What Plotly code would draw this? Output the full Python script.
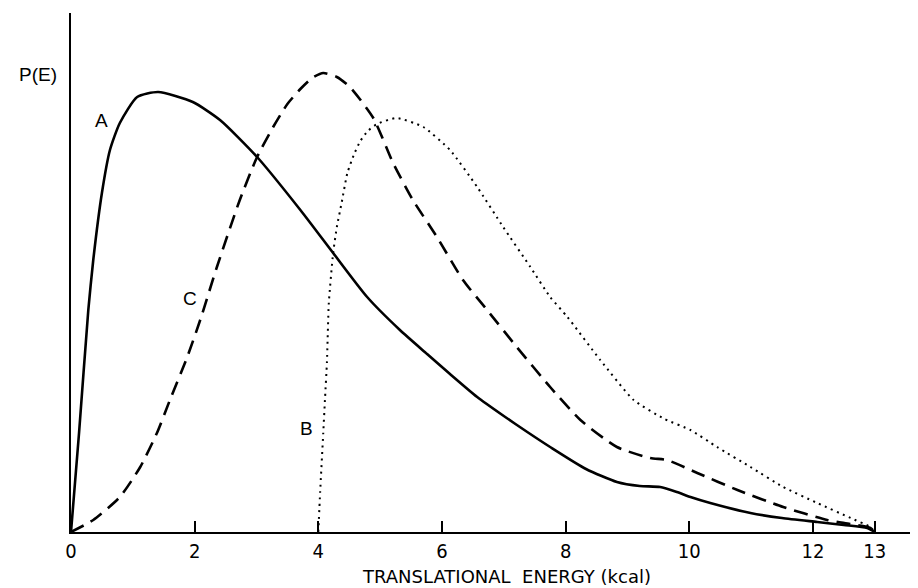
import plotly.graph_objects as go

# Translational energy (kcal) and P(E) (arbitrary units)
energy_A = [0, 0.13, 0.28, 0.36, 0.5, 0.63, 0.79, 1.07, 1.41, 1.97, 2.41, 3.01, 3.71, 4.24, 4.79,
            5.32, 5.76, 6.13, 6.57, 7.0, 7.38, 7.75, 8.33, 8.83, 9.2, 9.53, 9.8, 10.02, 10.34,
            10.99, 11.5, 12.07, 12.5, 12.88, 13.0]
pe_A = [0, 99, 222, 272, 339, 382, 409, 435, 440, 430, 412, 375, 322, 279, 235,
        202, 178, 158, 135, 116, 100, 85, 63, 50, 46, 45, 40, 35, 29,
        19, 14, 10, 7, 4, 0]

energy_C = [0, 0.36, 0.79, 1.12, 1.39, 1.6, 1.88, 2.09, 2.36, 2.73, 3.01, 3.27, 3.5, 3.71, 3.9,
            4.08, 4.3, 4.51, 4.89, 5.21, 5.53, 5.92, 6.34, 6.73, 7.21, 7.75, 8.24, 8.83, 9.37,
            9.64, 10.13, 10.78, 11.52, 12.23, 12.6, 12.93, 13.0]
pe_C = [0, 12, 35, 65, 99, 132, 175, 212, 265, 332, 375, 405, 428, 443, 454,
        459, 455, 445, 414, 369, 332, 295, 252, 222, 185, 145, 112, 85, 74,
        72, 59, 42, 25, 12, 8, 4, 0]

energy_B = [4.0, 4.03, 4.08, 4.11, 4.14, 4.17, 4.24, 4.3, 4.38, 4.47, 4.58, 4.68, 4.8, 4.95, 5.27,
            5.7, 6.13, 6.57, 6.99, 7.43, 7.75, 8.03, 8.56, 9.1, 9.6, 10.02, 10.45, 10.99, 11.52,
            12.07, 12.61, 12.93, 13.0]
pe_B = [0, 40, 99, 135, 170, 229, 279, 305, 330, 359, 378, 391, 401, 408, 414,
        405, 382, 345, 305, 265, 235, 215, 172, 132, 113, 102, 85, 65, 45,
        29, 14, 5, 0]

tick_vals = [0, 2, 4, 6, 8, 10, 12, 13]
tick_text = ["0", "2", "4", "6", "8", "10", "12", "13"]

curve_labels = ["A", "C", "B"]
label_x = [0.5, 1.93, 3.81]
label_y = [412, 234, 104]

fig = go.Figure()
fig.add_trace(go.Scatter(x=energy_A, y=pe_A, mode="lines",
                         line=dict(color="black", width=2.6, shape="spline", smoothing=0.6)))
fig.add_trace(go.Scatter(x=energy_C, y=pe_C, mode="lines",
                         line=dict(color="black", width=2.6, dash="14px,8px", shape="spline", smoothing=0.6)))
fig.add_trace(go.Scatter(x=energy_B, y=pe_B, mode="lines",
                         line=dict(color="black", width=2, dash="2px,4.5px", shape="spline", smoothing=0.5)))

for t, xx, yy in zip(curve_labels, label_x, label_y):
    fig.add_annotation(x=xx, y=yy, text=t, showarrow=False,
                       font=dict(family="Liberation Sans", size=19, color="black"))

fig.add_annotation(xref="paper", yref="paper", x=-0.014, xanchor="right", y=0.906, text="P(E)",
                   showarrow=False, font=dict(family="Liberation Sans", size=19, color="black"))
fig.add_annotation(xref="paper", yref="paper", x=0.5136, y=-0.0867, yanchor="middle",
                   text="TRANSLATIONAL  ENERGY (kcal)", showarrow=False,
                   font=dict(family="DejaVu Sans", size=18, color="black"))

# The page body adds an 8px offset, so the figure is 8px smaller and margins shifted
fig.update_layout(
    width=910, height=580,
    margin=dict(l=63, r=0, t=5, b=56),
    paper_bgcolor="white", plot_bgcolor="white",
    showlegend=False,
    xaxis=dict(range=[0, 13.7], showline=True, linecolor="black", linewidth=2,
               ticks="inside", ticklen=11, tickwidth=1.5, tickcolor="black",
               tickvals=tick_vals, ticktext=tick_text,
               tickfont=dict(family="DejaVu Sans Condensed", size=20, color="black"),
               showgrid=False, zeroline=False),
    yaxis=dict(range=[0, 519], showline=True, linecolor="black", linewidth=1.5,
               showticklabels=False, ticks="", showgrid=False, zeroline=False),
)

fig.write_html("out.html")
